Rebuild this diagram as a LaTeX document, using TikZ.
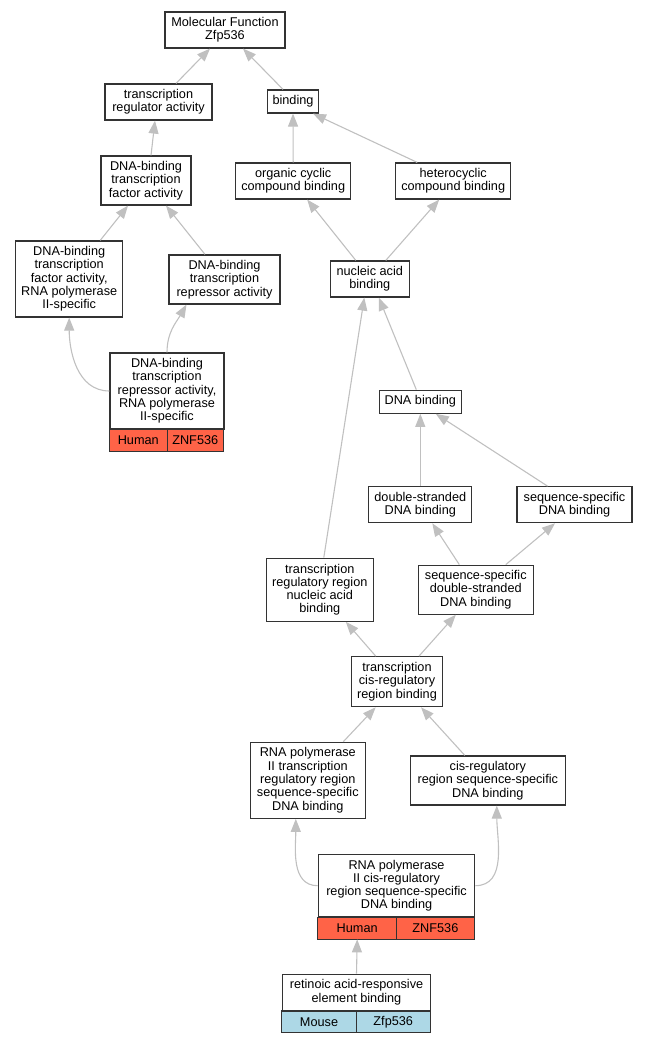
\documentclass[tikz,border=0pt]{standalone}
\usepackage{fontspec}
\setmainfont{Liberation Sans}
\usepackage{tikz}
\usetikzlibrary{shapes,arrows,arrows.meta,positioning}

\definecolor{humanred}{HTML}{FF6347}
\definecolor{mouseblue}{HTML}{ADD8E6}
\definecolor{edgegray}{HTML}{C0C0C0}

\begin{document}
\begin{tikzpicture}[x=1pt, y=-1pt,
  term/.style={draw=black!80, line width=1.2pt, fill=white, align=center, inner sep=0pt, font=\fontsize{12.7}{13.3}\selectfont},
  cell/.style={term, outer sep=0pt, anchor=north west, minimum height=21.7pt},
  human/.style={cell, fill=humanred},
  mouse/.style={cell, fill=mouseblue},
  isa/.style={draw=edgegray, line width=1.1pt, -{Triangle[length=13pt, width=10pt]}}]
\useasboundingbox (0,0) rectangle (648,1043);

\node[term, minimum width=120pt, minimum height=36pt] (mf) at (225,30) {Molecular Function\\Zfp536};
\node[term, minimum width=107pt, minimum height=36pt] (trreg) at (158.5,102) {transcription\\regulator activity};
\node[term, minimum width=51pt, minimum height=23pt] (bind) at (293,101.5) {binding};
\node[term, minimum width=90pt, minimum height=49pt] (dbtf) at (146,180.5) {DNA-binding\\transcription\\factor activity};
\node[term, minimum width=115pt, minimum height=36pt] (occb) at (293.2,181) {organic cyclic\\compound binding};
\node[term, minimum width=115pt, minimum height=36pt] (hccb) at (453.2,181) {heterocyclic\\compound binding};
\node[term, minimum width=107pt, minimum height=76pt] (dbtf2) at (69.2,279) {DNA-binding\\transcription\\factor activity,\\RNA polymerase\\II-specific};
\node[term, minimum width=111pt, minimum height=49pt] (dbtr) at (224.5,279.5) {DNA-binding\\transcription\\repressor activity};
\node[term, minimum width=79pt, minimum height=36pt] (nab) at (369.8,279) {nucleic acid\\binding};

\node[term, minimum width=114pt, minimum height=76pt] (dbtr2) at (167,391) {DNA-binding\\transcription\\repressor activity,\\RNA polymerase\\II-specific};
\node[human, minimum width=57.7pt] (dbtr2h) at (dbtr2.south west) {Human};
\node[human, minimum width=56.3pt] (dbtr2g) at (dbtr2h.north east) {ZNF536};

\node[term, minimum width=82pt, minimum height=23pt] (dnab) at (420.3,401.7) {DNA binding};
\node[term, minimum width=103pt, minimum height=36pt] (dsdna) at (420.3,504.7) {double-stranded\\DNA binding};
\node[term, minimum width=115pt, minimum height=36pt] (ssdna) at (574.5,504.7) {sequence-specific\\DNA binding};
\node[term, minimum width=107pt, minimum height=63pt] (trrnab) at (319.8,589.7) {transcription\\regulatory region\\nucleic acid\\binding};
\node[term, minimum width=115pt, minimum height=49pt] (ssds) at (475.8,589.7) {sequence-specific\\double-stranded\\DNA binding};
\node[term, minimum width=91pt, minimum height=50pt] (tcrrb) at (397,681.7) {transcription\\cis-regulatory\\region binding};
\node[term, minimum width=115pt, minimum height=76pt] (rp2trr) at (307.8,780.3) {RNA polymerase\\II transcription\\regulatory region\\sequence-specific\\DNA binding};
\node[term, minimum width=155pt, minimum height=49pt] (crr) at (487.8,780.5) {cis-regulatory\\region sequence-specific\\DNA binding};

\node[term, minimum width=156.4pt, minimum height=62.7pt] (rp2cr) at (396.5,885.7) {RNA polymerase\\II cis-regulatory\\region sequence-specific\\DNA binding};
\node[human, minimum width=79pt] (rp2crh) at (rp2cr.south west) {Human};
\node[human, minimum width=77.4pt] (rp2crg) at (rp2crh.north east) {ZNF536};

\node[term, minimum width=148.4pt, minimum height=36pt] (rare) at (356.5,992.3) {retinoic acid-responsive\\element binding};
\node[mouse, minimum width=74.7pt] (rarem) at (rare.south west) {Mouse};
\node[mouse, minimum width=73.7pt] (rareg) at (rarem.north east) {Zfp536};

\draw[isa] ([xshift=17.5pt]trreg.north) -- ([xshift=-15pt]mf.south);
\draw[isa] ([xshift=-10pt]bind.north) -- ([xshift=18pt]mf.south);
\draw[isa] ([xshift=5pt]dbtf.north) -- ([xshift=-3.5pt]trreg.south);
\draw[isa] (occb.north) -- (bind.south);
\draw[isa] ([xshift=-36pt]hccb.north) -- ([xshift=20pt]bind.south);
\draw[isa] ([xshift=31pt]dbtf2.north) -- ([xshift=-18pt]dbtf.south);
\draw[isa] ([xshift=-19.5pt]dbtr.north) -- ([xshift=20pt]dbtf.south);
\draw[isa] ([xshift=-14pt]nab.north) -- ([xshift=14pt]occb.south);
\draw[isa] ([xshift=16pt]nab.north) -- ([xshift=-14pt]hccb.south);
\draw[isa] (dbtr2.west) to[out=180, in=-90] (dbtf2.south);
\draw[isa] (dbtr2.north) to[out=90, in=-120] ([xshift=-38pt]dbtr.south);
\draw[isa] ([xshift=-4pt]dnab.north) -- ([xshift=9pt]nab.south);
\draw[isa] ([xshift=4pt]trrnab.north) -- ([xshift=-5.5pt]nab.south);
\draw[isa] (dsdna.north) -- (dnab.south);
\draw[isa] ([xshift=-27pt]ssdna.north) -- ([xshift=15.5pt]dnab.south);
\draw[isa] ([xshift=-16.5pt]ssds.north) -- ([xshift=12pt]dsdna.south);
\draw[isa] ([xshift=30pt]ssds.north) -- ([xshift=-19.5pt]ssdna.south);
\draw[isa] ([xshift=-21.3pt]tcrrb.north) -- ([xshift=26pt]trrnab.south);
\draw[isa] ([xshift=22pt]tcrrb.north) -- ([xshift=-20pt]ssds.south);
\draw[isa] ([xshift=35.5pt]rp2trr.north) -- ([xshift=-21.3pt]tcrrb.south);
\draw[isa] ([xshift=-23pt]crr.north) -- ([xshift=24pt]tcrrb.south);
\draw[isa] (rp2cr.west) to[out=180, in=-90] ([xshift=-12pt]rp2trr.south);
\draw[isa] (rp2cr.east) to[out=0, in=-90] ([xshift=9pt]crr.south);
\draw[isa] (rare.north) -- (rp2crh.south);

\end{tikzpicture}
\end{document}
